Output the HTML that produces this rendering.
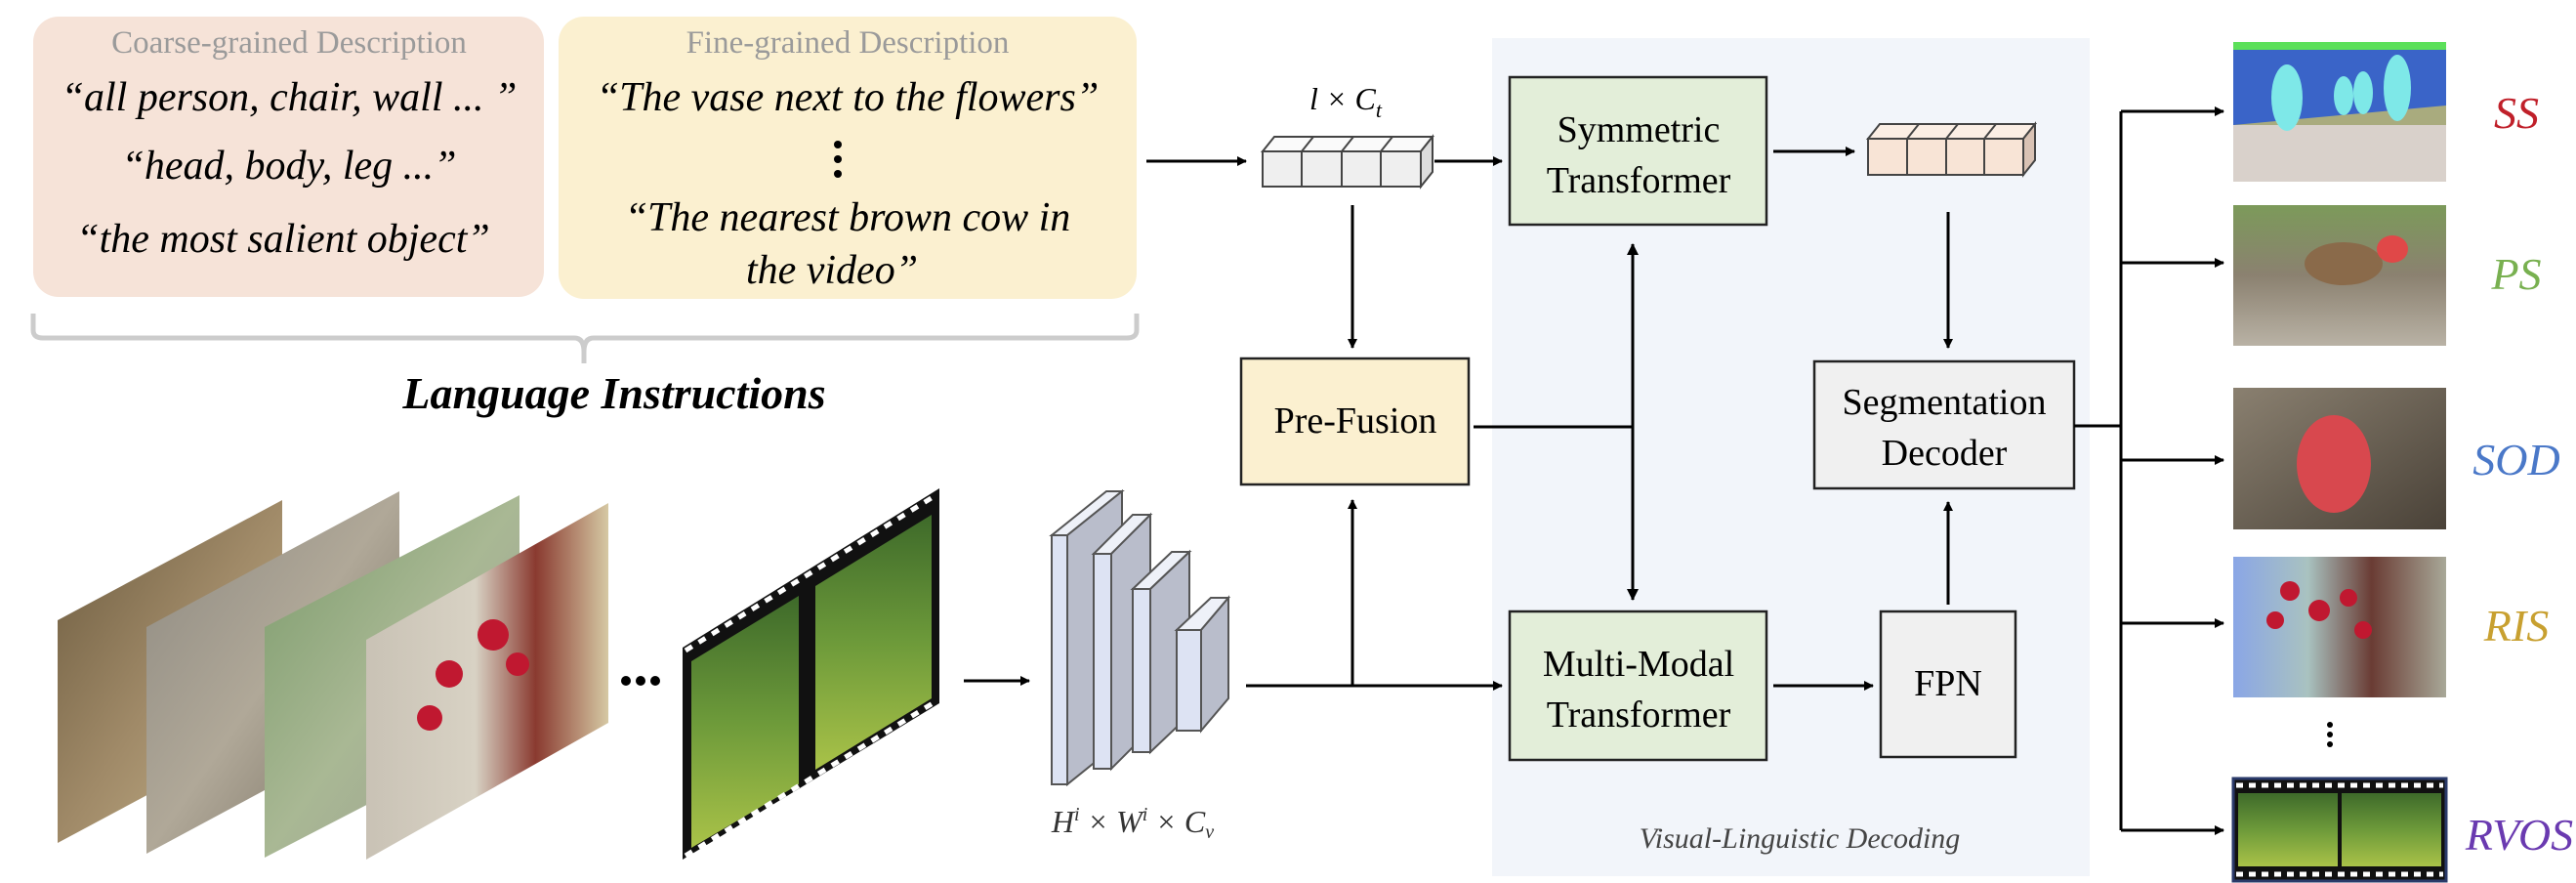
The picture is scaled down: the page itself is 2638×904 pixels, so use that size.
<!DOCTYPE html>
<html><head><meta charset="utf-8"><style>
html,body{margin:0;padding:0;background:#fff;}
svg{display:block;}
svg text{font-family:"Liberation Serif","Times New Roman",Times,serif;}
</style></head><body>
<svg width="2638" height="904" viewBox="0 0 2638 904" xmlns="http://www.w3.org/2000/svg">
<defs>
<marker id="ah" markerWidth="10" markerHeight="10" refX="9" refY="5" orient="auto" markerUnits="userSpaceOnUse"><path d="M0,0 L10,5 L0,10 z" fill="#000"/></marker>
<marker id="ah2" markerWidth="12" markerHeight="12" refX="11" refY="6" orient="auto-start-reverse" markerUnits="userSpaceOnUse"><path d="M0,0 L12,6 L0,12 z" fill="#000"/></marker>
<linearGradient id="g1" x1="0" y1="0" x2="1" y2="1"><stop offset="0" stop-color="#6b5a3e"/><stop offset="0.5" stop-color="#a08a68"/><stop offset="1" stop-color="#c9b78e"/></linearGradient>
<linearGradient id="g2" x1="0" y1="0" x2="1" y2="1"><stop offset="0" stop-color="#8c8880"/><stop offset="0.5" stop-color="#b0a898"/><stop offset="1" stop-color="#6f6658"/></linearGradient>
<linearGradient id="g3" x1="0" y1="0" x2="1" y2="1"><stop offset="0" stop-color="#7a9a6a"/><stop offset="0.5" stop-color="#a9b894"/><stop offset="1" stop-color="#9a9a90"/></linearGradient>
<linearGradient id="g4" x1="0" y1="0" x2="1" y2="0"><stop offset="0" stop-color="#c9c2b5"/><stop offset="0.45" stop-color="#d8d2c4"/><stop offset="0.7" stop-color="#8a3a30"/><stop offset="1" stop-color="#d6c9a4"/></linearGradient>
<linearGradient id="gr" x1="0" y1="0" x2="0" y2="1"><stop offset="0" stop-color="#3e6a2a"/><stop offset="0.5" stop-color="#6d9a3a"/><stop offset="1" stop-color="#a9c248"/></linearGradient>
<linearGradient id="gps" x1="0" y1="0" x2="0" y2="1"><stop offset="0" stop-color="#7c9a5a"/><stop offset="0.5" stop-color="#8b8170"/><stop offset="1" stop-color="#b9b2a5"/></linearGradient>
<linearGradient id="gsod" x1="0" y1="0" x2="1" y2="1"><stop offset="0" stop-color="#8a8070"/><stop offset="1" stop-color="#4a4238"/></linearGradient>
<linearGradient id="gris" x1="0" y1="0" x2="1" y2="0"><stop offset="0" stop-color="#8aa6e6"/><stop offset="0.35" stop-color="#a9c2c0"/><stop offset="0.65" stop-color="#6a3c34"/><stop offset="1" stop-color="#a8a898"/></linearGradient>
</defs>

<rect x="34" y="17" width="523" height="287" rx="26" fill="#f6e3d8"/>
<rect x="572" y="17" width="592" height="289" rx="26" fill="#fbf0d0"/>
<g fill="#9a9a9a" font-size="33" text-anchor="middle">
<text x="296" y="54">Coarse-grained Description</text>
<text x="868" y="54">Fine-grained Description</text>
</g>
<g font-style="italic" font-size="42" text-anchor="middle" fill="#000">
<text x="296" y="113">“all person, chair, wall ... ”</text>
<text x="296" y="183">“head, body, leg ...”</text>
<text x="290" y="258">“the most salient object”</text>
<text x="868" y="113">“The vase next to the flowers”</text>
<text x="868" y="236">“The nearest brown cow in</text>
<text x="852" y="290">the video”</text>
</g>
<g fill="#000"><circle cx="858" cy="148" r="4"/><circle cx="858" cy="163" r="4"/><circle cx="858" cy="178" r="4"/></g>
<path d="M34,321 V338 Q34,346 44,346 H588 Q598,346 598,360 V372 V360 Q598,346 608,346 H1154 Q1164,346 1164,338 V321" fill="none" stroke="#ccc" stroke-width="5"/>
<text x="629" y="418" font-size="46" font-weight="bold" font-style="italic" text-anchor="middle">Language Instructions</text>

<rect x="1528" y="39" width="612" height="858" fill="#f2f5fa"/>
<text x="1843" y="868" font-size="30" font-style="italic" fill="#444" text-anchor="middle">Visual-Linguistic Decoding</text>

<g stroke="#444" stroke-width="2">
<polygon points="1293,155 1305,140 1467,140 1455,155" fill="#fafafa"/>
<polygon points="1455,155 1467,140 1467,176 1455,191" fill="#ddd"/>
<rect x="1293" y="155" width="162" height="36" fill="#efefef"/>
<line x1="1333" y1="155" x2="1333" y2="191"/><line x1="1374" y1="155" x2="1374" y2="191"/><line x1="1414" y1="155" x2="1414" y2="191"/>
<line x1="1333" y1="155" x2="1345" y2="140"/><line x1="1374" y1="155" x2="1386" y2="140"/><line x1="1414" y1="155" x2="1426" y2="140"/>
</g>
<text x="1378" y="112" font-size="32" font-style="italic" text-anchor="middle">l × C<tspan font-size="22" dy="8">t</tspan></text>
<g stroke="#444" stroke-width="2">
<polygon points="1913,142 1925,127 2084,127 2072,142" fill="#fbeee4"/>
<polygon points="2072,142 2084,127 2084,164 2072,179" fill="#d9c2b4"/>
<rect x="1913" y="142" width="159" height="37" fill="#f8e4d6"/>
<line x1="1953" y1="142" x2="1953" y2="179"/><line x1="1993" y1="142" x2="1993" y2="179"/><line x1="2032" y1="142" x2="2032" y2="179"/>
<line x1="1953" y1="142" x2="1965" y2="127"/><line x1="1993" y1="142" x2="2005" y2="127"/><line x1="2032" y1="142" x2="2044" y2="127"/>
</g>

<g stroke="#222" stroke-width="2.5">
<rect x="1546" y="79" width="263" height="151" fill="#e3eed9"/>
<rect x="1546" y="626" width="263" height="152" fill="#e3eed9"/>
<rect x="1271" y="367" width="233" height="129" fill="#fbf0d0"/>
<rect x="1858" y="370" width="266" height="130" fill="#f0f0f0"/>
<rect x="1926" y="626" width="138" height="149" fill="#f0f0f0"/>
</g>
<g font-size="38" text-anchor="middle">
<text x="1678" y="145">Symmetric</text><text x="1678" y="197">Transformer</text>
<text x="1678" y="692">Multi-Modal</text><text x="1678" y="744">Transformer</text>
<text x="1388" y="443">Pre-Fusion</text>
<text x="1991" y="424">Segmentation</text><text x="1991" y="476">Decoder</text>
<text x="1995" y="712">FPN</text>
</g>

<g stroke="#000" stroke-width="3" fill="none">
<line x1="1174" y1="165" x2="1276" y2="165" marker-end="url(#ah)"/>
<line x1="1469" y1="165" x2="1538" y2="165" marker-end="url(#ah)"/>
<line x1="1816" y1="155" x2="1899" y2="155" marker-end="url(#ah)"/>
<line x1="1995" y1="217" x2="1995" y2="356" marker-end="url(#ah)"/>
<line x1="1385" y1="210" x2="1385" y2="356" marker-end="url(#ah)"/>
<line x1="1672" y1="250" x2="1672" y2="614" marker-start="url(#ah2)" marker-end="url(#ah2)"/>
<line x1="1509" y1="437" x2="1672" y2="437"/>
<line x1="1276" y1="702" x2="1538" y2="702" marker-end="url(#ah)"/>
<line x1="1385" y1="702" x2="1385" y2="512" marker-end="url(#ah)"/>
<line x1="1816" y1="702" x2="1918" y2="702" marker-end="url(#ah)"/>
<line x1="1995" y1="619" x2="1995" y2="514" marker-end="url(#ah)"/>
<line x1="2124" y1="436" x2="2172" y2="436"/>
<line x1="2172" y1="114" x2="2172" y2="850"/>
<line x1="2172" y1="114" x2="2277" y2="114" marker-end="url(#ah)"/>
<line x1="2172" y1="269" x2="2277" y2="269" marker-end="url(#ah)"/>
<line x1="2172" y1="471" x2="2277" y2="471" marker-end="url(#ah)"/>
<line x1="2172" y1="638" x2="2277" y2="638" marker-end="url(#ah)"/>
<line x1="2172" y1="850" x2="2277" y2="850" marker-end="url(#ah)"/>
<line x1="987" y1="697" x2="1054" y2="697" marker-end="url(#ah)"/>
</g>

<polygon points="59,635 289,512 289,740 59,863" fill="url(#g1)"/>
<polygon points="150,642 409,503 409,735 150,874" fill="url(#g2)"/>
<polygon points="271,642 532,507 532,743 271,878" fill="url(#g3)"/>
<polygon points="375,655 623,515 623,740 375,880" fill="url(#g4)"/>
<g fill="#c01830"><circle cx="460" cy="690" r="14"/><circle cx="505" cy="650" r="16"/><circle cx="530" cy="680" r="12"/><circle cx="440" cy="735" r="13"/></g>
<g fill="#000"><circle cx="641" cy="697" r="5"/><circle cx="656" cy="697" r="5"/><circle cx="671" cy="697" r="5"/></g>
<polygon points="699,663 962,500 962,720 699,880" fill="#111"/>
<polygon points="708,677 818,610 818,803 708,868" fill="url(#gr)"/>
<polygon points="835,600 954,527 954,715 835,788" fill="url(#gr)"/>
<line x1="702" y1="666" x2="960" y2="506" stroke="#fff" stroke-width="5" stroke-dasharray="8,8"/>
<line x1="702" y1="876" x2="960" y2="717" stroke="#fff" stroke-width="5" stroke-dasharray="8,8"/>

<g stroke="#555" stroke-width="2">
<polygon points="1077,548 1133,503 1149,503 1093,548" fill="#eef1f8"/>
<polygon points="1093,548 1149,503 1149,758 1093,803" fill="#b9bdcb"/>
<rect x="1077" y="548" width="16" height="255" fill="#dde3f3"/>
<polygon points="1120,567 1160,527 1178,527 1138,567" fill="#eef1f8"/>
<polygon points="1138,567 1178,527 1178,747 1138,787" fill="#b9bdcb"/>
<rect x="1120" y="567" width="18" height="220" fill="#dde3f3"/>
<polygon points="1160,603 1200,565 1218,565 1178,603" fill="#eef1f8"/>
<polygon points="1178,603 1218,565 1218,732 1178,770" fill="#b9bdcb"/>
<rect x="1160" y="603" width="18" height="167" fill="#dde3f3"/>
<polygon points="1205,645 1240,612 1258,612 1230,645" fill="#eef1f8"/>
<polygon points="1230,645 1258,612 1258,715 1230,748" fill="#b9bdcb"/>
<rect x="1205" y="645" width="25" height="103" fill="#dde3f3"/>
</g>
<text x="1160" y="852" font-size="32" font-style="italic" fill="#333" text-anchor="middle">H<tspan font-size="20" dy="-12">i</tspan><tspan dy="12"> × W</tspan><tspan font-size="20" dy="-12">i</tspan><tspan dy="12"> × C</tspan><tspan font-size="20" dy="6">v</tspan></text>

<rect x="2287" y="43" width="218" height="143" fill="#d9d1cb"/>
<rect x="2287" y="43" width="218" height="85" fill="#3a64c8"/>
<rect x="2287" y="43" width="218" height="8" fill="#5ce05a"/>
<polygon points="2287,128 2505,108 2505,128" fill="#a9ab7e"/>
<g fill="#7ee8e8"><ellipse cx="2342" cy="100" rx="16" ry="34"/><ellipse cx="2420" cy="95" rx="10" ry="22"/><ellipse cx="2455" cy="90" rx="14" ry="34"/><ellipse cx="2400" cy="98" rx="10" ry="20"/></g>
<rect x="2287" y="210" width="218" height="144" fill="url(#gps)"/>
<ellipse cx="2400" cy="270" rx="40" ry="22" fill="#8a6a4a"/>
<ellipse cx="2450" cy="255" rx="16" ry="14" fill="#e04848"/>
<rect x="2287" y="397" width="218" height="145" fill="url(#gsod)"/>
<ellipse cx="2390" cy="475" rx="38" ry="50" fill="#d8484e"/>
<rect x="2287" y="570" width="218" height="144" fill="url(#gris)"/>
<g fill="#c01830"><circle cx="2345" cy="605" r="10"/><circle cx="2375" cy="625" r="11"/><circle cx="2330" cy="635" r="9"/><circle cx="2405" cy="612" r="9"/><circle cx="2420" cy="645" r="9"/></g>
<g fill="#000"><circle cx="2386" cy="742" r="3"/><circle cx="2386" cy="752" r="3"/><circle cx="2386" cy="762" r="3"/></g>
<rect x="2287" y="797" width="218" height="105" fill="#111" stroke="#2a3a6a" stroke-width="3"/>
<rect x="2292" y="812" width="102" height="75" fill="url(#gr)"/>
<rect x="2398" y="812" width="102" height="75" fill="url(#gr)"/>
<line x1="2290" y1="804" x2="2502" y2="804" stroke="#fff" stroke-width="5" stroke-dasharray="7,6"/>
<line x1="2290" y1="895" x2="2502" y2="895" stroke="#fff" stroke-width="5" stroke-dasharray="7,6"/>
<g font-size="46" font-style="italic" text-anchor="middle">
<text x="2577" y="131" fill="#c0202a">SS</text>
<text x="2577" y="296" fill="#78b050">PS</text>
<text x="2577" y="486" fill="#4a78c8">SOD</text>
<text x="2577" y="656" fill="#c8a030">RIS</text>
<text x="2580" y="870" fill="#6a3ab0">RVOS</text>
</g>
</svg>
</body></html>
